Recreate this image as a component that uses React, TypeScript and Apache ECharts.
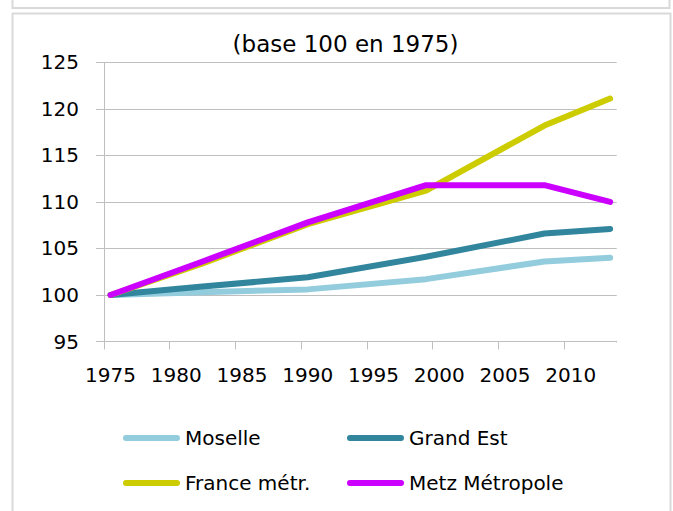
import React, { useEffect, useRef } from "react";
import * as echarts from "echarts";

const title = "(base 100 en 1975)";
const censusYears = ["1975", "1982", "1990", "1999", "2008", "2013"];
const axisYears: string[] = [];
for (let y = 1975; y <= 2013; y++) axisYears.push(String(y));

const moselle = [100, 100.3, 100.6, 101.7, 103.6, 104.0];
const grandEst = [100, 100.9, 101.9, 104.1, 106.6, 107.1];
const franceMetr = [100, 103.4, 107.6, 111.2, 118.2, 121.1];
const metzMetropole = [100, 103.6, 107.8, 111.8, 111.8, 110.0];

const seriesNames = ["Moselle", "Grand Est", "France métr.", "Metz Métropole"];
const seriesColors = ["#93CDDD", "#31859C", "#CCCC00", "#CC00FF"];
const seriesValues = [moselle, grandEst, franceMetr, metzMetropole];

const FONT = "DejaVu Sans";
const GRID = "#BFBFBF";
const legendIcon = "path://M3,0L55,0A3,3,0,0,1,55,6L3,6A3,3,0,0,1,3,0Z";

export default function App() {
  const ref = useRef<HTMLDivElement>(null);
  useEffect(() => {
    if (!ref.current) return;
    const chart = echarts.init(ref.current, null, { renderer: "svg" });
    const every5 = (i: number) => i % 5 === 0;
    const legendBase = {
      top: 427,
      orient: "vertical",
      padding: 0,
      itemGap: 23,
      itemWidth: 57,
      itemHeight: 6,
      icon: legendIcon,
      textStyle: { fontFamily: FONT, fontSize: 20, color: "#000", lineHeight: 22 },
    };
    chart.setOption({
      animation: false,
      backgroundColor: "#fff",
      textStyle: { fontFamily: FONT },
      graphic: [
        {
          type: "rect",
          z: -10,
          shape: { x: 12.5, y: -10, width: 657, height: 18 },
          style: { fill: "none", stroke: "#D9D9D9", lineWidth: 2 },
        },
        {
          type: "rect",
          z: -10,
          shape: { x: 12.5, y: 13.5, width: 658, height: 520 },
          style: { fill: "none", stroke: "#D9D9D9", lineWidth: 2 },
        },
        {
          type: "rect",
          z: 100,
          shape: { x: 615.5, y: 342.5, width: 4, height: 10 },
          style: { fill: "#fff" },
        },
        {
          type: "text",
          x: 345.5,
          y: 44,
          style: {
            text: title,
            fontFamily: FONT,
            fontSize: 23,
            fill: "#000",
            textAlign: "center",
            textVerticalAlign: "middle",
          },
        },
      ],
      grid: { left: 104, right: 56.3, top: 62.3, bottom: 169.5 },
      legend: [
        { ...legendBase, left: 123, data: [seriesNames[0], seriesNames[2]] },
        { ...legendBase, left: 347, data: [seriesNames[1], seriesNames[3]] },
      ],
      xAxis: {
        type: "category",
        data: axisYears,
        boundaryGap: true,
        axisLine: { show: true, lineStyle: { color: GRID, width: 1 } },
        axisTick: { show: true, interval: every5, length: 8, lineStyle: { color: GRID } },
        axisLabel: {
          interval: every5,
          margin: 23,
          fontFamily: FONT,
          fontSize: 20,
          color: "#000",
        },
        splitLine: { show: false },
      },
      yAxis: {
        type: "value",
        min: 95,
        max: 125,
        interval: 5,
        axisLine: { show: true, lineStyle: { color: GRID, width: 1 } },
        axisTick: { show: true, length: 8, lineStyle: { color: GRID } },
        axisLabel: { margin: 25, fontFamily: FONT, fontSize: 20, color: "#000" },
        splitLine: { show: true, lineStyle: { color: GRID, width: 1 } },
      },
      series: seriesNames.map((name, k) => ({
        name,
        type: "line",
        symbol: "none",
        color: seriesColors[k],
        lineStyle: { width: 6, color: seriesColors[k], cap: "round", join: "round" },
        data: censusYears.map((y, i) => [y, seriesValues[k][i]]),
      })),
    });
    return () => chart.dispose();
  }, []);
  return (
    <div
      ref={ref}
      style={{ position: "absolute", left: 0, top: 0, width: 673, height: 511 }}
    />
  );
}
